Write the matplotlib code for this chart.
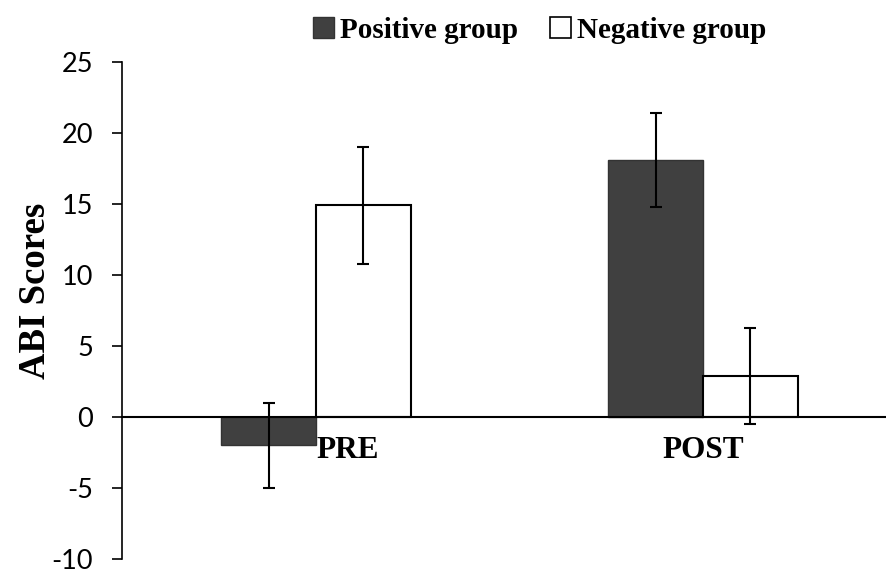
import matplotlib
matplotlib.use("Agg")
import matplotlib.pyplot as plt
import matplotlib.transforms as mtransforms
from matplotlib.patches import Patch
import numpy as np

# data
categories = ["PRE", "POST"]
series_names = ["Positive group", "Negative group"]
positive_means = [-2.0, 18.1]
positive_errs = [3.0, 3.3]
negative_means = [14.9, 2.9]
negative_errs = [4.1, 3.4]
y_ticks = [-10, -5, 0, 5, 10, 15, 20, 25]

serif = "Liberation Serif"
dark = "#404040"

fig = plt.figure(figsize=(8.87, 5.73), dpi=100)
ax = fig.add_axes([122.5 / 887, 14 / 573, 774 / 887, 497 / 573])

x = np.arange(len(categories))
w = 0.245

ax.bar(x - w / 2, positive_means, w, color=dark, edgecolor="#333333", linewidth=1.0,
       yerr=positive_errs, error_kw=dict(ecolor="black", elinewidth=1.5, capsize=4, capthick=1.5))
ax.bar(x + w / 2, negative_means, w, color="white", edgecolor="black", linewidth=1.5,
       yerr=negative_errs, error_kw=dict(ecolor="black", elinewidth=1.5, capsize=4, capthick=1.5))

ax.set_xlim(-0.5, 1.5)
ax.set_ylim(-10, 25)
ax.set_yticks(y_ticks)
ax.set_yticklabels([str(t) for t in y_ticks], fontfamily="Lato", fontsize=19.5)
ax.tick_params(axis="y", direction="out", length=7.2, width=1.2, pad=14)

# category axis crosses at zero
for s in ["top", "right"]:
    ax.spines[s].set_visible(False)
ax.spines["bottom"].set_position(("data", 0))
ax.spines["bottom"].set_linewidth(1.5)
ax.spines["left"].set_linewidth(1.2)
ax.set_xticks(x)
ax.set_xticklabels(categories, fontfamily=serif, fontweight="bold", fontsize=22.5)
ax.tick_params(axis="x", length=0, pad=14)
# the PRE label sits a bit right of its category in the original
lbl = ax.get_xticklabels()[0]
lbl.set_transform(lbl.get_transform() + mtransforms.ScaledTranslation(32 / 100, 0, fig.dpi_scale_trans))

ax.set_ylabel("ABI Scores", fontfamily=serif, fontweight="bold", fontsize=26.5)
ax.yaxis.set_label_coords(-0.09, 0.5385)

handles = [Patch(facecolor=dark, edgecolor="#333333", linewidth=1.0),
           Patch(facecolor="white", edgecolor="black", linewidth=1.2)]
fig.legend(handles, series_names, loc="center", bbox_to_anchor=(540 / 887, 1 - 30 / 573),
           ncol=2, frameon=False, prop=dict(family=serif, weight="bold", size=21),
           handlelength=0.72, handleheight=0.72, handletextpad=0.2, columnspacing=1.1)

fig.savefig("out.png", dpi=100)
